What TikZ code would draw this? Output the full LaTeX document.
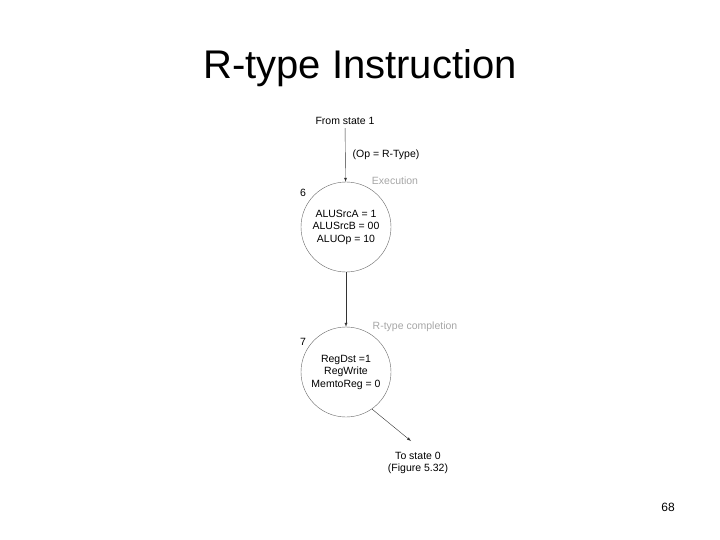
\documentclass[tikz,border=0pt]{standalone}
\usepackage{fontspec}
\setmainfont{Liberation Sans}
\begin{document}
\begin{tikzpicture}[x=1pt,y=-1pt,
  st/.style={draw=gray!80!black,circle,minimum size=90pt,inner sep=0pt,align=center,font=\fontsize{10.5}{12.5}\selectfont},
  lbl/.style={font=\fontsize{10.5}{12.5}\selectfont,align=center},
  glbl/.style={lbl,text=gray!70},
  arr/.style={draw=black!80,-latex}]
\useasboundingbox (0,0) rectangle (720,540);
\node (title) at (360,68) {\fontsize{40}{46}\selectfont R-type Instruction};
\node[lbl] (from) at (345,121) {From state 1};
\node[st] (s6) at (346,227) {ALUSrcA = 1\\ALUSrcB = 00\\ALUOp = 10};
\node[st] (s7) at (346,372) {RegDst =1\\RegWrite\\MemtoReg = 0};
\node[lbl] (n6) at (303,193) {6};
\node[lbl] (n7) at (303,342) {7};
\node[lbl] (op) at (386,155) {(Op = R-Type)};
\node[glbl] (ex) at (395,181) {Execution};
\node[glbl] (rc) at (415,327) {R-type completion};
\coordinate (end) at (411,441);
\node[lbl] (to) at (418,463) {To state 0\\(Figure 5.32)};
\node[lbl] (pg) at (668,507) {\fontsize{12}{14}\selectfont 68};
\draw[arr] (from) -- (s6);
\draw[arr] (s6) -- (s7);
\draw[arr] (s7.-55) -- (end);
\end{tikzpicture}
\end{document}
